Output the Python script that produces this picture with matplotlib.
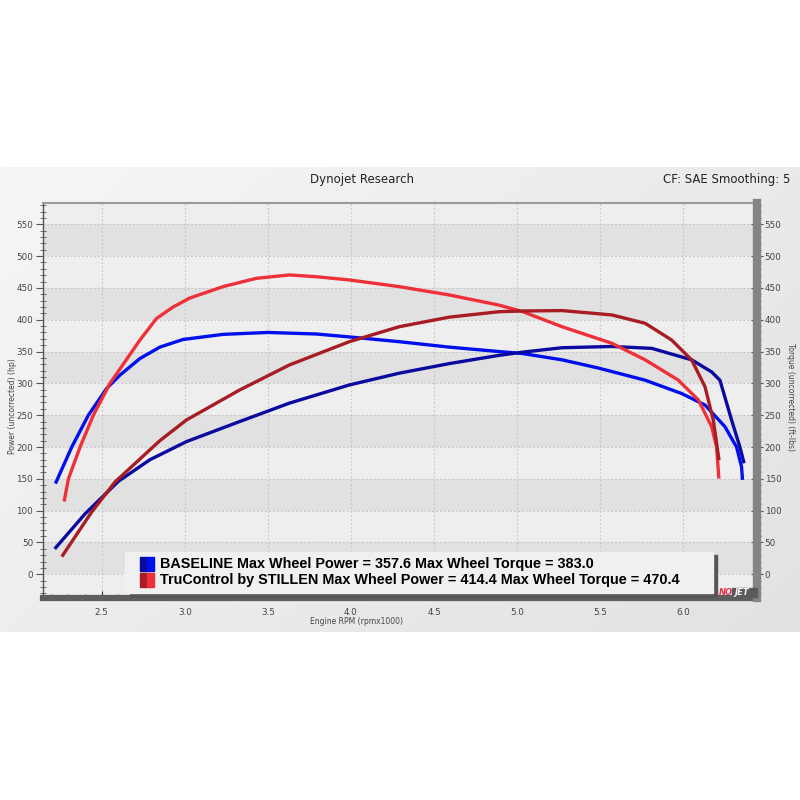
import numpy as np
import matplotlib.pyplot as plt
from matplotlib.patches import Rectangle
from matplotlib.colors import LinearSegmentedColormap

# BASELINE run
base_tq_rpm = [2.226, 2.32, 2.42, 2.53, 2.61, 2.73, 2.85, 2.99, 3.23, 3.5, 3.79, 3.99,
               4.29, 4.59, 4.89, 5.03, 5.27, 5.49, 5.77, 5.99, 6.13, 6.25, 6.32, 6.35, 6.355]
base_tq = [145, 200, 250, 292, 313, 339, 357, 369, 377, 380, 377.6, 373,
           365.5, 357, 350, 347, 337, 324, 305, 284, 266, 232, 200, 169, 151]
base_hp_rpm = [2.224, 2.40, 2.60, 2.79, 3.01, 3.33, 3.63, 3.99, 4.29, 4.59, 4.89, 5.03,
               5.27, 5.57, 5.81, 6.05, 6.17, 6.22, 6.29, 6.34, 6.363]
base_hp = [42, 95, 146, 180, 208.5, 240, 269, 297.5, 316, 331, 344, 349,
           356, 358, 355, 337, 318, 305, 242.5, 200, 177]

# TruControl by STILLEN run
stil_tq_rpm = [2.276, 2.30, 2.37, 2.45, 2.55, 2.73, 2.83, 2.93, 3.03, 3.23, 3.43, 3.63,
               3.79, 3.99, 4.29, 4.59, 4.89, 5.03, 5.27, 5.57, 5.77, 5.97, 6.09, 6.17, 6.2, 6.213]
stil_tq = [117, 150, 200, 250, 300, 368, 402, 420, 434, 452, 465, 470.4,
           467.6, 462.5, 452, 439, 423, 413, 389, 363, 337, 305, 274, 232, 200, 153]
stil_hp_rpm = [2.266, 2.44, 2.58, 2.85, 3.01, 3.33, 3.63, 3.99, 4.29, 4.59, 4.89, 5.03,
               5.27, 5.57, 5.77, 5.93, 6.05, 6.13, 6.18, 6.213]
stil_hp = [30, 98, 145, 210, 242.5, 289.6, 329, 365.5, 389, 404, 412.6, 413.7,
           414.4, 407.5, 394.4, 368, 336.7, 294.8, 242.5, 182]

base_max_hp = 357.6
base_max_tq = 383.0
stil_max_hp = 414.4
stil_max_tq = 470.4

x_ticks = [2.5, 3.0, 3.5, 4.0, 4.5, 5.0, 5.5, 6.0]
y_ticks = list(range(0, 551, 50))

BLUE = '#0010ec'
NAVY = '#0a0aa0'
RED = '#ee3038'
DKRED = '#a81c24'

fig = plt.figure(figsize=(8, 8), dpi=100, facecolor='white')

# grey panel behind the chart
bg = fig.add_axes([0, 0.21, 1, 0.58125])
gx, gy = np.meshgrid(np.linspace(0, 1, 200), np.linspace(0, 1, 100))
cmap = LinearSegmentedColormap.from_list('panel', ['#f6f6f6', '#e2e2e2'])
bg.imshow(0.6 * gx + 0.4 * gy, cmap=cmap, aspect='auto')
bg.axis('off')

ax = fig.add_axes([0.05375, 0.2525, 0.8925, 0.49375], zorder=2)
ax.set_xlim(2.147, 6.443)
ax.set_ylim(-37.2, 583.4)
ax.set_facecolor('#eeeeee')
for lo in range(0, 550, 100):
    ax.axhspan(lo, lo + 50, color='#e1e1e1', lw=0, zorder=0)
for y in y_ticks:
    ax.axhline(y, color='#c4c4c4', lw=0.8, ls=(0, (1.5, 2)), zorder=1)
for x in x_ticks:
    ax.axvline(x, color='#c4c4c4', lw=0.8, ls=(0, (1.5, 2)), zorder=1)

ax.plot(base_tq_rpm, base_tq, color=BLUE, lw=2.4, zorder=3)
ax.plot(base_hp_rpm, base_hp, color=NAVY, lw=2.4, zorder=3)
ax.plot(stil_tq_rpm, stil_tq, color=RED, lw=2.4, zorder=3)
ax.plot(stil_hp_rpm, stil_hp, color=DKRED, lw=2.4, zorder=3)

ax.set_xticks(x_ticks)
ax.set_xticks(np.arange(2.2, 6.45, 0.1), minor=True)
ax.set_yticks(y_ticks)
ax.set_yticks(range(-30, 581, 10), minor=True)
ax.tick_params(axis='y', which='major', direction='out', length=5, width=0.8,
               color='#555555', labelsize=6.3, labelcolor='#444444', pad=2)
ax.tick_params(axis='y', which='minor', direction='inout', length=4, width=0.6, color='#555555')
ax.tick_params(axis='x', which='major', direction='in', length=5, width=0.8,
               color='#333333', labelsize=6.3, labelcolor='#444444', pad=7)
ax.tick_params(axis='x', which='minor', direction='in', length=3, width=0.6, color='#333333')
ax.set_xticklabels(['2.5', '3.0', '3.5', '4.0', '4.5', '5.0', '5.5', '6.0'])

ax.spines['left'].set_color('#555555')
ax.spines['left'].set_linewidth(1)
ax.spines['top'].set_color('#9a9a9a')
ax.spines['top'].set_linewidth(1.5)
ax.spines['bottom'].set_color('#5e5e5e')
ax.spines['bottom'].set_linewidth(4.5)
ax.spines['right'].set_visible(False)

ax2 = ax.twinx()
ax2.set_ylim(ax.get_ylim())
ax2.set_yticks(y_ticks)
ax2.set_yticks(range(-30, 581, 10), minor=True)
ax2.tick_params(axis='y', which='major', direction='inout', length=9, width=0.8,
                color='#555555', labelsize=6.3, labelcolor='#444444', pad=1)
ax2.tick_params(axis='y', which='minor', direction='out', length=3, width=0.6, color='#555555')
ax2.spines['right'].set_color('#848484')
ax2.spines['right'].set_linewidth(6)
for s in ['left', 'top', 'bottom']:
    ax2.spines[s].set_visible(False)

# headings and axis titles
fig.text(0.4525, 0.776, 'Dynojet Research', fontsize=8.5, color='#222222',
         ha='center', va='center')
fig.text(0.9875, 0.776, 'CF: SAE Smoothing: 5', fontsize=8.5, color='#222222',
         ha='right', va='center')
fig.text(0.016, 0.4925, 'Power (uncorrected) (hp)', fontsize=5.5, color='#444444',
         rotation=90, ha='center', va='center')
fig.text(0.9875, 0.504, 'Torque (uncorrected) (ft-lbs)', fontsize=5.5, color='#444444',
         rotation=270, ha='center', va='center')
fig.text(0.446, 0.2225, 'Engine RPM (rpmx1000)', fontsize=5.5, color='#444444',
         ha='center', va='center')

# legend block
fig.patches.append(Rectangle((0.8915, 0.254), 0.005, 0.052, transform=fig.transFigure,
                             color='#555555', zorder=4))
fig.patches.append(Rectangle((0.162, 0.254), 0.73, 0.006, transform=fig.transFigure,
                             color='#555555', zorder=4))
fig.patches.append(Rectangle((0.15625, 0.25875), 0.735, 0.05125, transform=fig.transFigure,
                             color='#f0f0f0', zorder=5))
sw = [(0.2868, NAVY, BLUE), (0.2668, DKRED, RED)]
for y0, c1, c2 in sw:
    fig.patches.append(Rectangle((0.175, y0), 0.009, 0.0175, transform=fig.transFigure,
                                 color=c1, zorder=6))
    fig.patches.append(Rectangle((0.184, y0), 0.009, 0.0175, transform=fig.transFigure,
                                 color=c2, zorder=6))
fig.text(0.2, 0.2955, 'BASELINE Max Wheel Power = %.1f Max Wheel Torque = %.1f'
         % (base_max_hp, base_max_tq), fontsize=10.4, fontweight='bold',
         family='Liberation Sans', color='black', va='center', zorder=7)
fig.text(0.2, 0.2755, 'TruControl by STILLEN Max Wheel Power = %.1f Max Wheel Torque = %.1f'
         % (stil_max_hp, stil_max_tq), fontsize=10.4, fontweight='bold',
         family='Liberation Sans', color='black', va='center', zorder=7)

# dyno logo
fig.patches.append(Rectangle((0.915, 0.2535), 0.031, 0.011, transform=fig.transFigure,
                             color='#5a5a5a', zorder=6))
fig.text(0.899, 0.259, 'NO', fontsize=6, fontweight='bold', style='italic',
         color='#e8304a', va='center', zorder=7)
fig.text(0.918, 0.259, 'JET', fontsize=6, fontweight='bold', style='italic',
         color='#f4f4f4', va='center', zorder=7)

fig.savefig('out.png', dpi=100, facecolor='white')
